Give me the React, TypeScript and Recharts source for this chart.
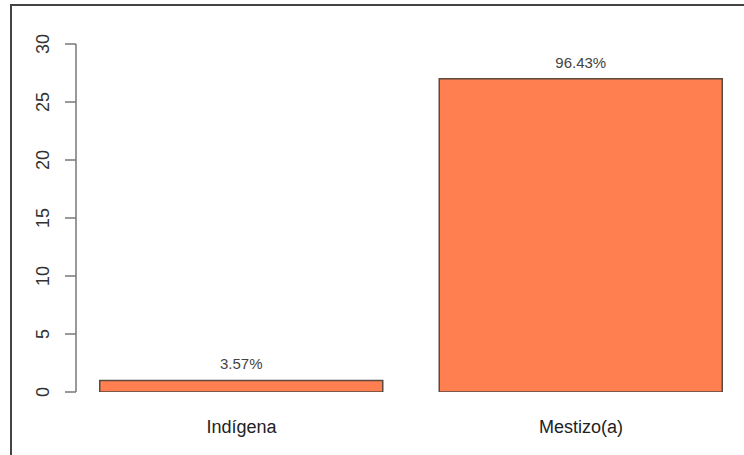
import React from 'react';
import { BarChart, Bar, XAxis, YAxis, LabelList } from 'recharts';

const categories = ['Indígena', 'Mestizo(a)'];
const counts = [1, 27];
const yTicks = [0, 5, 10, 15, 20, 25, 30];

const total = counts.reduce((a, b) => a + b, 0);
const data = categories.map((name, i) => ({ name, count: counts[i] }));

const FONT = '"Liberation Sans", Arial, sans-serif';

const YTick = (props: any) => {
  const { x, y, payload } = props;
  const bx = x - 14;
  return (
    <text
      x={bx}
      y={y}
      transform={`rotate(-90 ${bx} ${y})`}
      textAnchor="middle"
      fontSize={18}
      fontFamily={FONT}
      fill="#333"
    >
      {payload.value}
    </text>
  );
};

const XTick = (props: any) => {
  const { x, y, payload } = props;
  return (
    <text x={x} y={y} textAnchor="middle" fontSize={18} fontFamily={FONT} fill="#222">
      {payload.value}
    </text>
  );
};

const PctLabel = (props: any) => {
  const { x, y, width, value } = props;
  return (
    <text
      x={x + width / 2}
      y={y - 11}
      textAnchor="middle"
      fontSize={15}
      fontFamily={FONT}
      fill="#444"
    >
      {((value / total) * 100).toFixed(2)}%
    </text>
  );
};

export default function App() {
  return (
    <div style={{ position: 'absolute', left: 0, top: 0, width: 744, height: 455, background: '#fff' }}>
      <div
        style={{
          position: 'absolute',
          left: 10,
          top: 4,
          right: 0,
          bottom: 0,
          borderTop: '2px solid #444',
          borderLeft: '2px solid #444',
        }}
      />
      <div style={{ position: 'absolute', left: 0, top: 0 }}>
        <BarChart
          width={744}
          height={455}
          data={data}
          margin={{ top: 44, right: 0, bottom: 0, left: 0 }}
          barCategoryGap={0}
        >
          <XAxis
            dataKey="name"
            axisLine={false}
            tickLine={false}
            height={63}
            tickSize={0}
            tickMargin={41}
            padding={{ left: -4.25, right: -6.75 }}
            tick={<XTick />}
            interval={0}
          />
          <YAxis
            width={76}
            domain={[0, 30]}
            ticks={yTicks}
            allowDataOverflow
            axisLine={{ stroke: '#777', strokeWidth: 1.5 }}
            tickLine={{ stroke: '#777', strokeWidth: 1.5 }}
            tickSize={11}
            tick={<YTick />}
            interval={0}
          />
          <Bar
            dataKey="count"
            fill="#FF7F50"
            stroke="#5a4a40"
            strokeWidth={1.5}
            barSize={283}
            isAnimationActive={false}
          >
            <LabelList dataKey="count" content={<PctLabel />} />
          </Bar>
        </BarChart>
      </div>
    </div>
  );
}
